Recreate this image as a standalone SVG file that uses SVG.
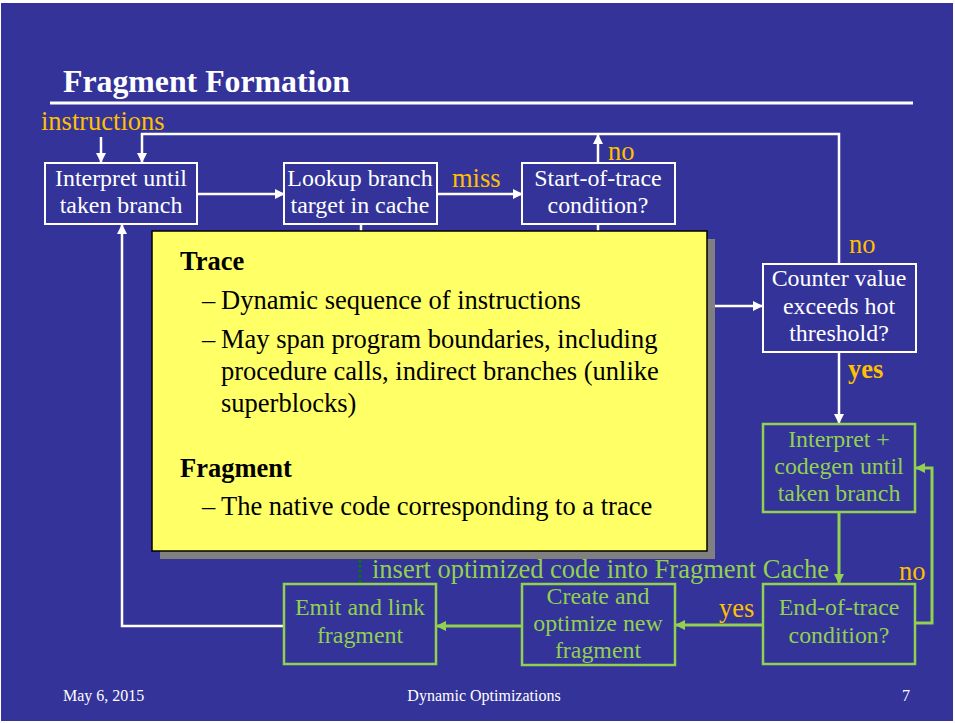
<svg xmlns="http://www.w3.org/2000/svg" width="955" height="723" viewBox="0 0 955 723" font-family="'Liberation Serif', 'Times New Roman', serif">
  <defs>
    <style>
      text { font-family: "Liberation Serif", "Times New Roman", serif; }
      .box { fill: none; stroke: #ffffff; stroke-width: 2; }
      .gbox { fill: none; stroke: #92d050; stroke-width: 2.5; }
      .lbl { fill: #ffffff; font-size: 23.9px; text-anchor: middle; }
      .glbl { fill: #92d050; font-size: 23.9px; text-anchor: middle; }
      .or { fill: #ffc000; font-size: 26.5px; }
      .wl { fill: none; stroke: #ffffff; stroke-width: 2.5; }
      .gl { fill: none; stroke: #92d050; stroke-width: 3; }
      .body { fill: #000000; font-size: 26.5px; }
    </style>
    <marker id="aw" viewBox="0 0 10 10" refX="9" refY="5" markerWidth="4" markerHeight="4" orient="auto" markerUnits="strokeWidth">
      <path d="M0,0 L10,5 L0,10 z" fill="#ffffff"/>
    </marker>
    <marker id="ag" viewBox="0 0 10 10" refX="9" refY="5" markerWidth="3.5" markerHeight="3.5" orient="auto" markerUnits="strokeWidth">
      <path d="M0,0 L10,5 L0,10 z" fill="#92d050"/>
    </marker>
  </defs>

  <!-- slide background -->
  <rect x="0" y="0" width="955" height="723" fill="#ffffff"/>
  <rect x="1" y="3" width="952" height="718" fill="#333399"/>

  <!-- title -->
  <text x="63" y="92" font-size="31.8" font-weight="bold" fill="#ffffff">Fragment Formation</text>
  <line x1="50" y1="103" x2="913" y2="103" stroke="#ffffff" stroke-width="3"/>

  <text class="or" x="41" y="130">instructions</text>

  <!-- connectors -->
  <g id="connectors">
    <line class="wl" x1="101" y1="137" x2="101" y2="162" marker-end="url(#aw)"/>
    <polyline class="wl" points="839,263 839,134 142,134 142,162" marker-end="url(#aw)"/>
    <line class="wl" x1="198" y1="194" x2="284" y2="194" marker-end="url(#aw)"/>
    <line class="wl" x1="437" y1="194" x2="522" y2="194" marker-end="url(#aw)"/>
    <line class="wl" x1="598" y1="163" x2="598" y2="135" marker-end="url(#aw)"/>
    <line class="wl" x1="361" y1="224" x2="361" y2="240"/>
    <line class="wl" x1="598" y1="224" x2="598" y2="240"/>
    <line class="wl" x1="712" y1="306" x2="762" y2="306" marker-end="url(#aw)"/>
    <line class="wl" x1="839" y1="352" x2="839" y2="423" marker-end="url(#aw)"/>
    <polyline class="wl" points="284,626 122,626 122,225" marker-end="url(#aw)"/>
    <line class="gl" x1="839" y1="512" x2="839" y2="583" marker-end="url(#ag)"/>
    <polyline class="gl" points="915,623 932,623 932,468 916,468" marker-end="url(#ag)"/>
    <line class="gl" x1="763" y1="625" x2="676" y2="625" marker-end="url(#ag)"/>
    <line class="gl" x1="522" y1="626" x2="437" y2="626" marker-end="url(#ag)"/>
    <line x1="360" y1="560" x2="360" y2="584" stroke="#008000" stroke-width="2.5" stroke-dasharray="2.5,2.5"/>
  </g>

  <!-- connector labels -->
  <text class="or" x="452" y="187">miss</text>
  <text class="or" x="608" y="160">no</text>
  <text class="or" x="849" y="253">no</text>
  <text class="or" x="848" y="378" font-weight="bold">yes</text>
  <text class="or" x="899" y="580">no</text>
  <text class="or" x="719" y="617">yes</text>
  <text x="372" y="578" font-size="26.5" fill="#92d050">insert optimized code into Fragment Cache</text>

  <!-- nodes -->
  <g id="interpret">
    <rect class="box" x="45" y="163" width="152" height="61"/>
    <text class="lbl" x="121" y="186">Interpret until</text>
    <text class="lbl" x="121" y="213">taken branch</text>
  </g>
  <g id="lookup">
    <rect class="box" x="284" y="163" width="153" height="61"/>
    <text class="lbl" x="360" y="186">Lookup branch</text>
    <text class="lbl" x="360" y="213">target in cache</text>
  </g>
  <g id="start-of-trace">
    <rect class="box" x="522" y="163" width="153" height="61"/>
    <text class="lbl" x="598" y="186">Start-of-trace</text>
    <text class="lbl" x="598" y="213">condition?</text>
  </g>
  <g id="counter">
    <rect class="box" x="763" y="264" width="153" height="88"/>
    <text class="lbl" x="839" y="286">Counter value</text>
    <text class="lbl" x="839" y="314">exceeds hot</text>
    <text class="lbl" x="839" y="341">threshold?</text>
  </g>
  <g id="codegen">
    <rect class="gbox" x="763" y="424" width="152" height="88"/>
    <text class="glbl" x="839" y="447">Interpret +</text>
    <text class="glbl" x="839" y="474">codegen until</text>
    <text class="glbl" x="839" y="501">taken branch</text>
  </g>
  <g id="end-of-trace">
    <rect class="gbox" x="763" y="584" width="152" height="80"/>
    <text class="glbl" x="839" y="615">End-of-trace</text>
    <text class="glbl" x="839" y="643">condition?</text>
  </g>
  <g id="create">
    <rect class="gbox" x="522" y="584" width="153" height="81"/>
    <text class="glbl" x="598" y="604">Create and</text>
    <text class="glbl" x="598" y="631">optimize new</text>
    <text class="glbl" x="598" y="658">fragment</text>
  </g>
  <g id="emit">
    <rect class="gbox" x="284" y="584" width="152" height="80"/>
    <text class="glbl" x="360" y="615">Emit and link</text>
    <text class="glbl" x="360" y="643">fragment</text>
  </g>

  <!-- definitions callout -->
  <g id="callout">
    <rect x="160" y="239" width="555" height="320" fill="#808080"/>
    <rect x="152" y="231" width="555" height="320" fill="#ffff66" stroke="#000000" stroke-width="1.5"/>
    <text class="body" x="180" y="270" font-weight="bold">Trace</text>
    <text class="body" x="202" y="309">–</text>
    <text class="body" x="221" y="309">Dynamic sequence of instructions</text>
    <text class="body" x="202" y="348">–</text>
    <text class="body" x="221" y="348">May span program boundaries, including</text>
    <text class="body" x="221" y="380">procedure calls, indirect branches (unlike</text>
    <text class="body" x="221" y="412">superblocks)</text>
    <text class="body" x="180" y="477" font-weight="bold">Fragment</text>
    <text class="body" x="202" y="515">–</text>
    <text class="body" x="221" y="515">The native code corresponding to a trace</text>
  </g>

  <!-- footer -->
  <text x="63" y="701" font-size="16" fill="#ffffff">May 6, 2015</text>
  <text x="484" y="701" font-size="16" fill="#ffffff" text-anchor="middle">Dynamic Optimizations</text>
  <text x="902" y="701" font-size="16" fill="#ffffff">7</text>
</svg>
